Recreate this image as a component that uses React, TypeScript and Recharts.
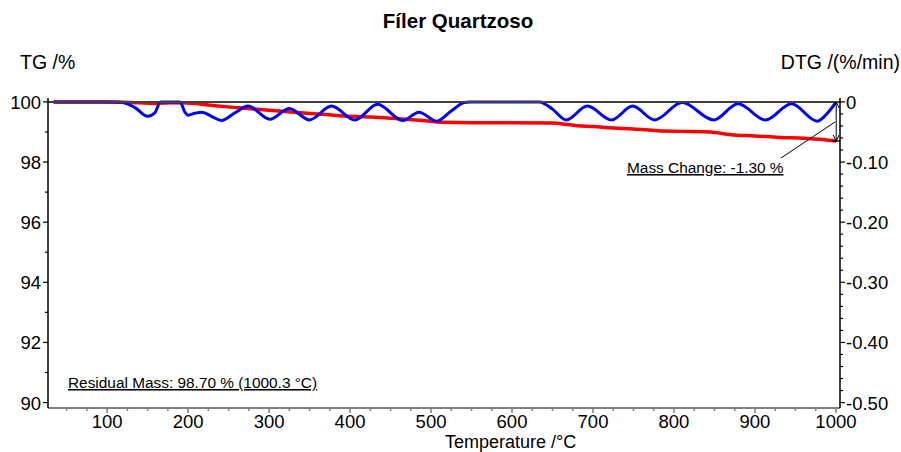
import React from "react";
import { LineChart, Line, XAxis, YAxis, ReferenceLine } from "recharts";

const FONT = "'Liberation Sans', Arial, Helvetica, sans-serif";

// TG curve (mass %, left axis)
const tgTemp = [34, 60, 100, 120, 140, 160, 180, 200, 230, 260, 300, 330, 370, 400, 430, 460, 490, 515, 550, 600, 650, 665, 680, 700, 725, 750, 780, 810, 845, 870, 900, 930, 960, 980, 1000.3];
const tgMass = [100.0, 100.0, 100.0, 99.99, 99.97, 99.95, 99.97, 99.96, 99.88, 99.81, 99.72, 99.66, 99.58, 99.52, 99.49, 99.44, 99.38, 99.32, 99.31, 99.31, 99.3, 99.26, 99.21, 99.18, 99.13, 99.1, 99.04, 99.02, 99.0, 98.91, 98.87, 98.82, 98.79, 98.76, 98.7];

// DTG curve (%/min, right axis)
const dtgTemp = [34, 113, 122, 134, 150, 159, 166, 190, 196, 200, 208, 217, 229, 241, 258, 274, 301, 325, 350, 377, 406, 434, 465, 485, 507, 525, 541, 548, 634, 650, 667, 693, 723, 749, 776, 810, 849, 879, 913, 945, 977, 990, 1000.3];
const dtgRate = [0, 0, -0.002, -0.009, -0.024, -0.018, 0, 0, -0.017, -0.022, -0.019, -0.017, -0.024, -0.031, -0.018, -0.007, -0.029, -0.011, -0.03, -0.007, -0.03, -0.004, -0.031, -0.017, -0.032, -0.015, -0.001, 0, 0, -0.012, -0.03, -0.007, -0.03, -0.007, -0.03, -0.001, -0.03, -0.003, -0.03, -0.003, -0.032, -0.018, 0];

const xMajor = [100, 200, 300, 400, 500, 600, 700, 800, 900, 1000];
const tgMajor = [90, 92, 94, 96, 98, 100];
const dtgMajor = [0, -0.1, -0.2, -0.3, -0.4, -0.5];

// annotation values
const massStart = 100;
const massEnd = 98.7;
const endTemp = 1000.3;
const massChangeText = "Mass Change: -1.30 %";
const residualText = "Residual Mass: 98.70 % (1000.3 °C)";

const xTicks: number[] = [];
for (let v = 50; v <= 1000; v += 25) xTicks.push(v);
const tgTicks: number[] = [];
for (let v = 90; v <= 100; v += 1) tgTicks.push(v);
const dtgTicks: number[] = [];
for (let i = 0; i <= 25; i++) dtgTicks.push(-i * 0.02);

const tgData = tgTemp.map((t, i) => ({ t, v: tgMass[i] }));
const dtgData = dtgTemp.map((t, i) => ({ t, v: dtgRate[i] }));

const isMajor = (arr: number[], v: number) => arr.some((m) => Math.abs(m - v) < 1e-6);

function XTick(props: any) {
  const { x, y, payload } = props;
  const major = isMajor(xMajor, payload.value);
  return (
    <g>
      <line x1={x} x2={x} y1={y} y2={y + (major ? 5 : 3)} stroke="#7f7f7f" strokeWidth={1.5} />
      {major && (
        <text x={x} y={y + 19.5} textAnchor="middle" fontSize={18.5} fontFamily={FONT} fill="#000">
          {payload.value}
        </text>
      )}
    </g>
  );
}

function TgTick(props: any) {
  const { x, y, payload } = props;
  const major = isMajor(tgMajor, payload.value);
  return (
    <g>
      <line x1={x} x2={x - (major ? 5 : 3)} y1={y} y2={y} stroke="#000" strokeWidth={1.2} />
      {major && (
        <text x={x - 7} y={y + 7} textAnchor="end" fontSize={18.5} fontFamily={FONT} fill="#000">
          {payload.value}
        </text>
      )}
    </g>
  );
}

function DtgTick(props: any) {
  const { x, y, payload } = props;
  const major = isMajor(dtgMajor, payload.value);
  const label = Math.abs(payload.value) < 1e-9 ? "0" : payload.value.toFixed(2);
  return (
    <g>
      <line x1={x} x2={x + (major ? 5 : 3)} y1={y} y2={y} stroke="#000" strokeWidth={1.2} />
      {major && (
        <text x={x + 6} y={y + 7} textAnchor="start" fontSize={18.5} fontFamily={FONT} fill="#000">
          {label}
        </text>
      )}
    </g>
  );
}

function MassArrow(props: any) {
  const { x1, y1, x2, y2 } = props;
  return (
    <g>
      <line x1={x1} y1={y1} x2={x2} y2={y2} stroke="#000" strokeWidth={1} />
      <polyline points={`${x1 - 3},${y1 + 6} ${x1},${y1} ${x1 + 3},${y1 + 6}`} fill="none" stroke="#000" strokeWidth={1} />
      <polyline points={`${x2 - 3},${y2 - 6} ${x2},${y2} ${x2 + 3},${y2 - 6}`} fill="none" stroke="#000" strokeWidth={1} />
      <line x1={x2 - 4} x2={x2 + 4} y1={y2} y2={y2} stroke="#000" strokeWidth={1.5} />
    </g>
  );
}

export default function App() {
  return (
    <div style={{ position: "absolute", left: 0, top: 0, width: 901, height: 452, background: "#fff" }}>
      <LineChart width={901} height={452} margin={{ top: 98, right: 0, bottom: 0, left: 0 }}>
        <XAxis
          type="number"
          dataKey="t"
          domain={[27, 1005]}
          allowDataOverflow
          ticks={xTicks}
          interval={0}
          height={44}
          tickSize={0}
          tickMargin={0}
          tickLine={false}
          axisLine={{ stroke: "#7f7f7f", strokeWidth: 2 }}
          tick={(p: any) => <XTick {...p} />}
        />
        <YAxis
          yAxisId="tg"
          orientation="left"
          type="number"
          domain={[89.82, 100.13]}
          allowDataOverflow
          ticks={tgTicks}
          interval={0}
          width={48}
          tickSize={0}
          tickMargin={0}
          tickLine={false}
          axisLine={{ stroke: "#000", strokeWidth: 1.5 }}
          tick={(p: any) => <TgTick {...p} />}
        />
        <YAxis
          yAxisId="dtg"
          orientation="right"
          type="number"
          domain={[-0.509, 0.0065]}
          allowDataOverflow
          ticks={dtgTicks}
          interval={0}
          width={61}
          tickSize={0}
          tickMargin={0}
          tickLine={false}
          axisLine={{ stroke: "#000", strokeWidth: 1.5 }}
          tick={(p: any) => <DtgTick {...p} />}
        />
        <Line
          yAxisId="tg"
          data={tgData}
          dataKey="v"
          type="monotone"
          stroke="#ff0000"
          strokeWidth={3.5}
          dot={false}
          isAnimationActive={false}
        />
        <Line
          yAxisId="dtg"
          data={dtgData}
          dataKey="v"
          type="monotone"
          stroke="#0000ff"
          strokeWidth={3}
          dot={false}
          isAnimationActive={false}
        />
        <ReferenceLine yAxisId="tg" y={massStart} stroke="#404040" strokeWidth={2} />
        <ReferenceLine
          yAxisId="tg"
          segment={[
            { x: endTemp, y: massStart },
            { x: endTemp, y: massEnd },
          ]}
          shape={(p: any) => <MassArrow {...p} />}
        />
      </LineChart>
      <svg
        width={901}
        height={452}
        style={{ position: "absolute", left: 0, top: 0, pointerEvents: "none" }}
        fontFamily={FONT}
      >
        <text x={458} y={28} textAnchor="middle" fontSize={20.5} fontWeight="bold" fill="#000">
          Fíler Quartzoso
        </text>
        <text x={20} y={69} fontSize={19.5} fill="#000">
          TG /%
        </text>
        <text x={900} y={69} textAnchor="end" fontSize={19.5} fill="#000">
          DTG /(%/min)
        </text>
        <text x={445} y={447.5} fontSize={18} fill="#000">
          Temperature /°C
        </text>
        <text x={68} y={388} fontSize={15.4} fill="#000" textDecoration="underline">
          {residualText}
        </text>
        <text x={627} y={173} fontSize={15.4} fill="#000" textDecoration="underline">
          {massChangeText}
        </text>
        <line x1={781} y1={158} x2={835} y2={122} stroke="#000" strokeWidth={1} />
      </svg>
    </div>
  );
}
